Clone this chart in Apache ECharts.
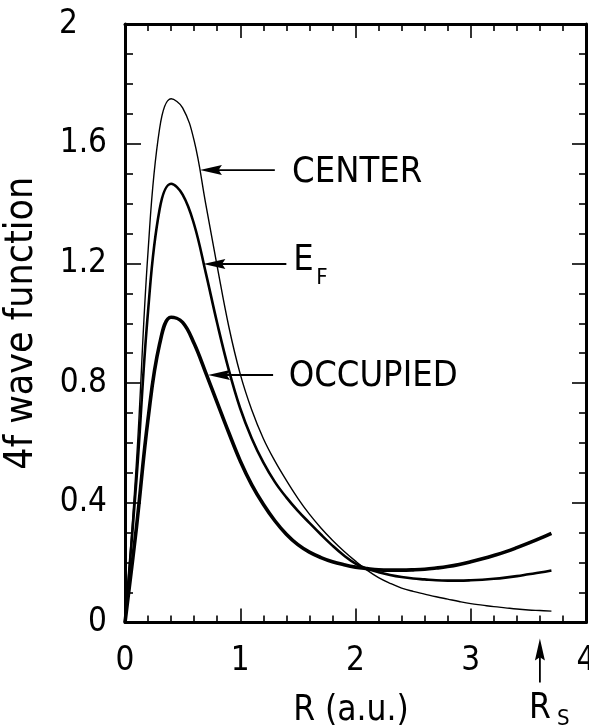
<!DOCTYPE html>
<html>
<head>
<meta charset="utf-8">
<script src="https://cdn.jsdelivr.net/npm/echarts@6/dist/echarts.min.js"></script>
<style>
  html, body { margin: 0; padding: 0; background: #fff; }
  #chart { width: 589px; height: 725px; }
</style>
</head>
<body>
<div id="chart"></div>
<script>
// Radial grid (a.u.) shared by the three 4f wave functions
const radius = [0, 0.1, 0.2, 0.3, 0.4, 0.5, 0.6, 0.7, 0.8, 0.9, 1.0, 1.1, 1.2, 1.3, 1.4, 1.5, 1.6, 1.7, 1.8, 1.9, 2.0, 2.1, 2.2, 2.3, 2.4, 2.5, 2.6, 2.7, 2.8, 2.9, 3.0, 3.1, 3.2, 3.3, 3.4, 3.5, 3.6, 3.7];
// Band-center energy
const centerWave = [0, 0.54, 1.24, 1.65, 1.75, 1.72, 1.61, 1.40, 1.19, 0.99, 0.83, 0.71, 0.615, 0.54, 0.475, 0.415, 0.362, 0.316, 0.275, 0.238, 0.205, 0.175, 0.150, 0.131, 0.115, 0.104, 0.095, 0.086, 0.078, 0.070, 0.063, 0.058, 0.053, 0.049, 0.045, 0.042, 0.040, 0.038];
// Fermi energy
const fermiWave = [0, 0.48, 1.04, 1.38, 1.466, 1.43, 1.33, 1.17, 1.00, 0.845, 0.715, 0.615, 0.535, 0.47, 0.418, 0.373, 0.333, 0.294, 0.257, 0.224, 0.197, 0.180, 0.168, 0.159, 0.152, 0.147, 0.144, 0.141, 0.140, 0.140, 0.141, 0.143, 0.146, 0.150, 0.155, 0.161, 0.167, 0.174];
// Occupied state
const occupiedWave = [0, 0.32, 0.68, 0.93, 1.02, 1.003, 0.932, 0.835, 0.735, 0.635, 0.54, 0.46, 0.395, 0.34, 0.295, 0.26, 0.235, 0.217, 0.203, 0.193, 0.185, 0.180, 0.176, 0.175, 0.175, 0.176, 0.178, 0.182, 0.187, 0.194, 0.203, 0.213, 0.224, 0.236, 0.250, 0.265, 0.281, 0.298];

// Axis ranges and ticks
const xTicks = { min: 0, max: 4, interval: 1 };
const yTicks = { min: 0, max: 2, interval: 0.4 };

// Curve labels: arrow tip and tail (data units) and label anchor
const pointers = [
  { text: 'CENTER', tip: [0.65, 1.512], tail: [1.30, 1.512], label: [1.45, 1.503] },
  { text: 'E', sub: 'F', tip: [0.68, 1.198], tail: [1.40, 1.198], label: [1.46, 1.208] },
  { text: 'OCCUPIED', tip: [0.72, 0.827], tail: [1.285, 0.827], label: [1.42, 0.822] }
];
// Sphere radius marker below the axis
const sphereRadius = 3.6;

const FONT = 'DejaVu Sans Condensed';
const INK = '#000';

const pairs = vals => radius.map((r, i) => [r, vals[i]]);

function axisCommon(extra) {
  return Object.assign({
    type: 'value',
    axisLine: { show: true, onZero: false, lineStyle: { color: INK, width: 3 } },
    splitLine: { show: false },
    minorSplitLine: { show: false }
  }, extra);
}

const chart = echarts.init(document.getElementById('chart'));

chart.setOption({
  backgroundColor: '#fff',
  animation: false,
  grid: { left: 125, top: 24, width: 461, height: 598.5, containLabel: false, outerBoundsMode: 'none' },
  xAxis: [
    axisCommon({
      position: 'bottom', min: xTicks.min, max: xTicks.max, interval: xTicks.interval,
      axisTick: { inside: true, length: 14, lineStyle: { color: INK, width: 1.6 } },
      minorTick: { show: true, splitNumber: 5, length: 7, lineStyle: { color: INK, width: 1.6 } },
      axisLabel: { margin: 22, fontSize: 33, fontFamily: FONT, color: INK, hideOverlap: false },
      name: 'R (a.u.)', nameLocation: 'middle', nameGap: 71,
      nameTextStyle: { fontSize: 35, fontFamily: FONT, color: INK, padding: [0, 9, 0, 0] }
    }),
    axisCommon({
      position: 'top', min: xTicks.min, max: xTicks.max, interval: xTicks.interval,
      axisTick: { inside: true, length: 14, lineStyle: { color: INK, width: 1.6 } },
      minorTick: { show: true, splitNumber: 5, length: 7, lineStyle: { color: INK, width: 1.6 } },
      axisLabel: { show: false }
    })
  ],
  yAxis: [
    axisCommon({
      position: 'left', min: yTicks.min, max: yTicks.max, interval: yTicks.interval,
      axisTick: { inside: true, length: 16, lineStyle: { color: INK, width: 1.6 } },
      minorTick: { show: true, splitNumber: 4, length: 8, lineStyle: { color: INK, width: 1.6 } },
      axisLabel: {
        margin: 18, fontSize: 33, fontFamily: FONT, color: INK,
        formatter: v => Math.abs(v - 2) < 1e-9 ? '{top|2}' : String(v),
        rich: { top: { fontSize: 33, fontFamily: FONT, color: INK, padding: [0, 29, 0, 0] } }
      },
      name: '4f wave function', nameLocation: 'middle', nameGap: 84,
      nameTextStyle: { fontSize: 39, fontFamily: FONT, color: INK }
    }),
    axisCommon({
      position: 'right', min: yTicks.min, max: yTicks.max, interval: yTicks.interval,
      axisTick: { inside: true, length: 14, lineStyle: { color: INK, width: 1.6 } },
      minorTick: { show: true, splitNumber: 4, length: 7, lineStyle: { color: INK, width: 1.6 } },
      axisLabel: { show: false }
    })
  ],
  series: [
    { name: 'CENTER', type: 'line', data: pairs(centerWave), smooth: 0.4, showSymbol: false,
      lineStyle: { color: INK, width: 1.4 } },
    { name: 'E_F', type: 'line', data: pairs(fermiWave), smooth: 0.4, showSymbol: false,
      lineStyle: { color: INK, width: 2.6 } },
    { name: 'OCCUPIED', type: 'line', data: pairs(occupiedWave), smooth: 0.4, showSymbol: false,
      lineStyle: { color: INK, width: 3.6 } }
  ]
});

// Arrow annotations, placed through the grid's coordinate system
const toPx = p => chart.convertToPixel({ gridIndex: 0 }, p);
const graphics = [];

function arrowShapes(tipX, tipY, tailX, tailY) {
  const dx = tailX - tipX, dy = tailY - tipY;
  const len = Math.hypot(dx, dy);
  const ux = dx / len, uy = dy / len;
  const headLen = 22, halfW = 5;
  const bx = tipX + ux * headLen, by = tipY + uy * headLen;
  return [
    { type: 'line', shape: { x1: tipX + ux * 8, y1: tipY + uy * 8, x2: tailX, y2: tailY },
      style: { stroke: INK, lineWidth: 1.8 } },
    { type: 'polygon', shape: { points: [
        [tipX, tipY],
        [bx - uy * halfW, by + ux * halfW],
        [tipX + ux * headLen * 0.85, tipY + uy * headLen * 0.85],
        [bx + uy * halfW, by - ux * halfW]
      ] }, style: { fill: INK } }
  ];
}

pointers.forEach(p => {
  const tip = toPx(p.tip), tail = toPx(p.tail), lab = toPx(p.label);
  graphics.push(...arrowShapes(tip[0], tip[1], tail[0], tail[1]));
  graphics.push({ type: 'text', x: lab[0], y: lab[1],
    style: { text: p.text, fontSize: 36, fontFamily: FONT, fill: INK, align: 'left', verticalAlign: 'middle' } });
  if (p.sub) {
    graphics.push({ type: 'text', x: lab[0] + 23, y: lab[1] + 17,
      style: { text: p.sub, fontSize: 22, fontFamily: FONT, fill: INK, align: 'left', verticalAlign: 'middle' } });
  }
});

// R_S marker below the horizontal axis
const rs = toPx([sphereRadius, 0]);
graphics.push(...arrowShapes(rs[0], rs[1] + 16, rs[0], rs[1] + 60));
graphics.push({ type: 'text', x: rs[0] - 11, y: rs[1] + 86,
  style: { text: 'R', fontSize: 35, fontFamily: FONT, fill: INK, align: 'left', verticalAlign: 'middle' } });
graphics.push({ type: 'text', x: rs[0] + 17, y: rs[1] + 97,
  style: { text: 'S', fontSize: 22, fontFamily: FONT, fill: INK, align: 'left', verticalAlign: 'middle' } });

chart.setOption({ graphic: graphics });
</script>
</body>
</html>
